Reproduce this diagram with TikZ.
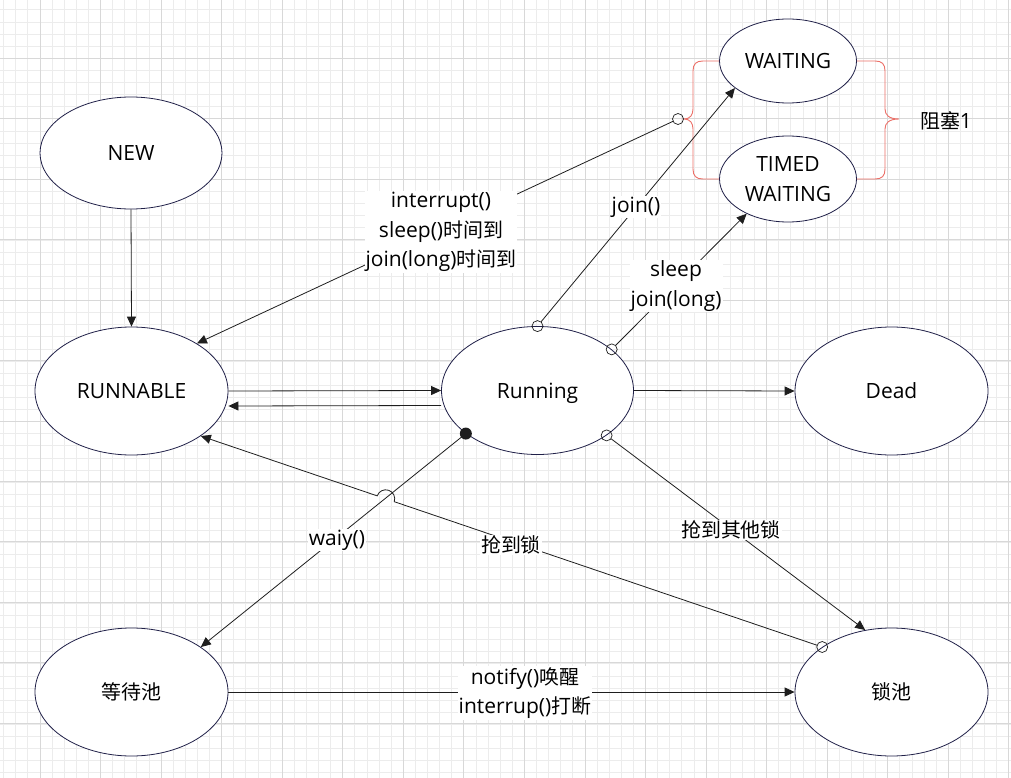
\documentclass[tikz,border=0pt]{standalone}
\usepackage{fontspec}
\setmainfont{Open Sans}
\newfontfamily\cjk[Scale=0.95]{Noto Sans CJK SC}
\usetikzlibrary{arrows.meta,calc,shapes.geometric}
\definecolor{navy}{RGB}{32,32,72}
\definecolor{lc}{RGB}{30,30,30}
\definecolor{bred}{RGB}{236,112,104}
\definecolor{gmin}{RGB}{236,236,236}
\definecolor{gmaj}{RGB}{216,216,216}
\begin{document}
\begin{tikzpicture}[x=1pt,y=-1pt,
  st/.style={ellipse, draw=navy, fill=white, line width=0.8pt, inner sep=0pt, font=\fontsize{21}{30}\selectfont, align=center},
  lbl/.style={fill=white, inner sep=1pt, font=\fontsize{21}{29.5}\selectfont, align=center},
  conn/.style={draw=lc, line width=0.8pt, -{Triangle[length=10pt,width=9pt]}},
  ostart/.style={shorten <=5.5pt},
  omark/.style={draw=lc, line width=0.7pt},
  brace/.style={draw=bred, line width=0.9pt},
]
\useasboundingbox (0,0) rectangle (1011,778);
\fill[white] (0,0) rectangle (1011,778);
% grid
\foreach \i in {0,...,83} \draw[gmin, line width=0.8pt] ({3.67+12.11*\i},0) -- ({3.67+12.11*\i},778);
\foreach \i in {0,...,63} \draw[gmin, line width=0.8pt] (0,{9.86+12.11*\i}) -- (1011,{9.86+12.11*\i});
\foreach \i in {1,...,17} \draw[gmaj, line width=0.8pt] ({-20.55+60.55*\i},0) -- ({-20.55+60.55*\i},778);
\foreach \i in {1,...,12} \draw[gmaj, line width=0.8pt] (0,{-2.2+60.45*\i}) -- (1011,{-2.2+60.45*\i});

% states
\node[st, minimum width=182pt, minimum height=112pt] (new) at (131,153) {NEW};
\node[st, minimum width=193pt, minimum height=128pt] (rn) at (131.5,391) {RUNNABLE};
\node[st, minimum width=192pt, minimum height=128pt] (run) at (537.5,390.5) {\raisebox{0pt}[\height][0pt]{Running}};
\node[st, minimum width=193pt, minimum height=128pt] (dead) at (891.5,391) {Dead};
\node[st, minimum width=193pt, minimum height=128pt] (wp) at (131.5,692) {\cjk 等待池};
\node[st, minimum width=193pt, minimum height=128pt] (lp) at (891.5,692) {\cjk 锁池};
\node[st, minimum width=137pt, minimum height=84pt] (wt) at (788,61) {WAITING};
\node[st, minimum width=137pt, minimum height=86pt] (tw) at (788,179) {TIMED\\WAITING};

% brace
\draw[brace] (wt.west) -- (703,61) .. controls (696,61) and (693,64) .. (693,71) -- (693,109)
  .. controls (693,115) and (690,119) .. (684,119) .. controls (690,119) and (693,123) .. (693,129)
  -- (693,169) .. controls (693,176) and (696,179) .. (703,179) -- (tw.west);
\draw[brace] (wt.east) -- (875,61) .. controls (882,61) and (885,64) .. (885,71) -- (885,109)
  .. controls (885,115) and (889,119) .. (899,119) .. controls (889,119) and (885,123) .. (885,129)
  -- (885,169) .. controls (885,176) and (882,179) .. (875,179) -- (tw.east);
\node[font=\fontsize{21}{24}\selectfont, inner sep=0pt] (blk) at (946,121) {{\cjk 阻塞}1};
\coordinate (bk) at (678,119);

% connectors
\draw[conn] (new.south) -- (rn.north);
\draw[conn] (rn.east) -- (run.west);
\draw[conn] ([yshift=-15pt]run.west) -- ([yshift=-15pt]rn.east);
\draw[conn] (run.east) -- (dead.west);
\draw[conn] (wp.east) -- (lp.west);

\draw[conn, ostart] (run.90) -- (wt.207);
\draw[omark] (run.90) circle (5.5pt);
\draw[conn, ostart] (run.29) -- (tw.220);
\draw[omark] (run.29) circle (5.5pt);
\draw[conn, ostart] (bk) -- (rn.36);
\draw[omark] (bk) circle (5.5pt);
\draw[conn] (run.211) -- (wp.33);
\fill[lc] (run.211) circle (6pt);
\draw[conn, ostart] (run.-33) -- (lp.113);
\draw[omark] (run.-33) circle (5.5pt);
\draw[conn, ostart] (lp.147) -- ($(lp.147)!0.6887!(rn.-33)$)
  arc[start angle=-18.87, end angle=161.13, radius=9pt] -- (rn.-33);
\draw[omark] (lp.147) circle (5.5pt);

% labels
\node[lbl] (l1) at (441,232) {interrupt()\\sleep(){\cjk 时间到}\\join(long){\cjk 时间到}};
\node[lbl] (l2) at (636,207) {join()};
\node[lbl] (l3) at (676,286) {sleep\\join(long)};
\node[lbl] (l4) at (337,540) {waiy()};
\node[lbl] (l5) at (731,530) {\cjk 抢到其他锁};
\node[lbl] (l6) at (511,545) {\cjk 抢到锁};
\node[lbl] (l7) at (525,693) {notify(){\cjk 唤醒}\\interrup(){\cjk 打断}};
\end{tikzpicture}
\end{document}
